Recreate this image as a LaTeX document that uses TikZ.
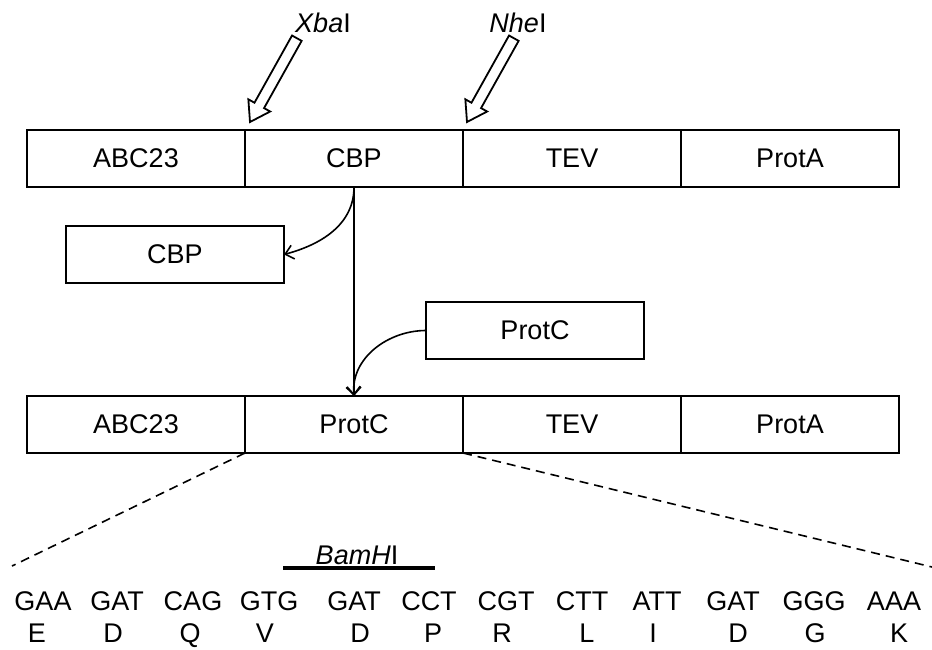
\documentclass[tikz,border=0pt]{standalone}
\usepackage{fontspec}
\setmainfont{Liberation Sans}
\usetikzlibrary{positioning,arrows.meta}

\tikzset{
    seg/.style={draw, line width=2.6pt, minimum width=218pt, minimum height=57pt, inner sep=0pt, outer sep=0pt},
    flow/.style={line width=1.6pt, -{Straight Barb[length=8pt,width=14pt,line width=1.6pt]}},
    cutsite/.style={line width=1.8pt, line join=miter},
    seq/.style={anchor=base, inner sep=0pt}
}

\begin{document}
\begin{tikzpicture}[x=1pt,y=1pt,font=\fontsize{27}{32}\selectfont]
    \useasboundingbox (0,0) rectangle (932,649);
    % fusion before the swap
    \node[seg] (t1) at (136,490.5) {ABC23};
    \node[seg, right=0pt of t1] (t2) {CBP};
    \node[seg, right=0pt of t2] (t3) {TEV};
    \node[seg, right=0pt of t3] (t4) {ProtA};
    % fusion after the swap
    \node[seg] (b1) at (136,224.5) {ABC23};
    \node[seg, right=0pt of b1] (b2) {ProtC};
    \node[seg, right=0pt of b2] (b3) {TEV};
    \node[seg, right=0pt of b3] (b4) {ProtA};
    % tags going out and in
    \node[seg] (cbp) at (175,394.5) {CBP};
    \node[seg] (pc) at (535,318.5) {ProtC};
    \draw[flow] (t2.south) -- (b2.north);
    \draw[flow] (t2.south) to[out=-90,in=15] (cbp.east);
    \draw[flow] (pc.west) to[out=180,in=95] (b2.north);
    % restriction sites
    \node (xba) at (323,626) {\itshape Xba\upshape I};
    \node (nhe) at (518,626) {\itshape Nhe\upshape I};
    \foreach \tx in {250,467}
        \draw[cutsite, shift={(\tx,527)}, rotate=240.8]
            (0,0) -- (-19,12.5) -- (-19,5.5) -- (-96,5.5) -- (-96,-5.5) -- (-19,-5.5) -- (-19,-12.5) -- cycle;
    % zoom into the linker
    \coordinate (zl) at (12,83);
    \coordinate (zr) at (932,82);
    \draw[line width=1.6pt, dash pattern=on 9pt off 6pt] (b2.south west) -- (zl);
    \draw[line width=1.6pt, dash pattern=on 9pt off 6pt] (b2.south east) -- (zr);
    \node (bam) at (357,94) {\itshape BamH\upshape I};
    \draw[line width=3.5pt] (283,81) -- (435,81);
    \foreach \cx/\cod/\ax/\aa [count=\i] in {43/GAA/37/E, 117/GAT/113/D, 193/CAG/190/Q, 269/GTG/265/V,
        354/GAT/360/D, 429/CCT/433/P, 506/CGT/502/R, 582/CTT/587/L, 657/ATT/653/I,
        733/GAT/738/D, 814/GGG/815/G, 894/AAA/899/K}
    {
        \node[seq] (c\i) at (\cx,39) {\cod};
        \node[seq] (a\i) at (\ax,7) {\aa};
    }
\end{tikzpicture}
\end{document}
